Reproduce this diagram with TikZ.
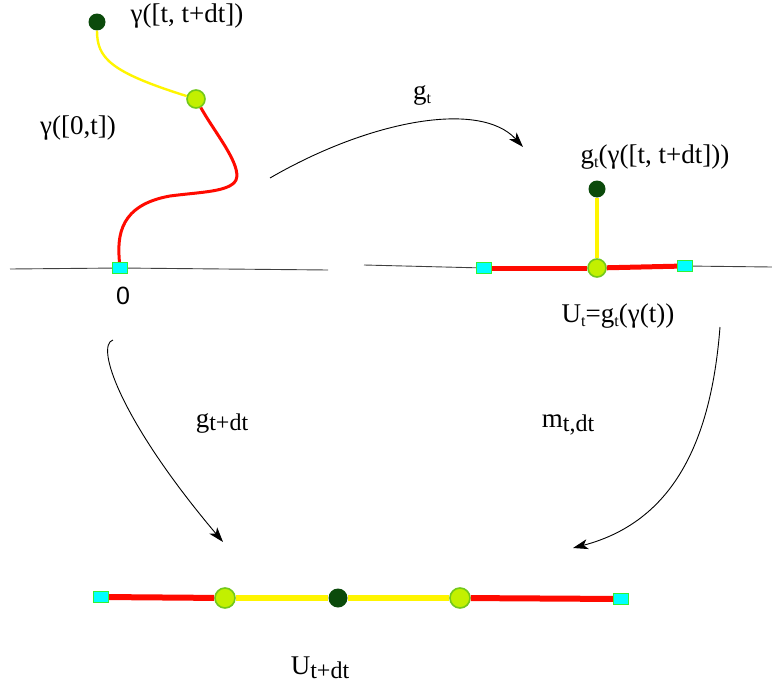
\documentclass[tikz,border=0pt]{standalone}
\usepackage{fontspec}
\setmainfont{Liberation Serif}
\newfontfamily\zerofont{Liberation Sans}
\usetikzlibrary{arrows.meta}
\definecolor{darkdot}{HTML}{0B4A0B}
\definecolor{lime}{HTML}{C2F000}
\definecolor{limeedge}{HTML}{72C81A}
\definecolor{sqfill}{HTML}{00FFFF}
\definecolor{sqedge}{HTML}{33F033}
\definecolor{curvered}{HTML}{FF0A00}
\definecolor{curveyellow}{HTML}{FFF500}
\definecolor{axis}{HTML}{404040}
\newcommand{\smallsub}[1]{\raisebox{-0.35ex}{\fontsize{16}{18}\selectfont #1}}
\newcommand{\bigsub}[1]{\raisebox{-0.3ex}{\fontsize{24}{28}\selectfont #1}}
\tikzset{
  enddot/.style={circle, fill=darkdot, inner sep=0pt, minimum size=17pt},
  joint/.style={circle, fill=lime, draw=limeedge, line width=1.6pt,
                inner sep=0pt, minimum size=18pt},
  endsq/.style={rectangle, fill=sqfill, draw=sqedge, line width=1.2pt,
                inner sep=0pt, minimum width=15pt, minimum height=11pt},
  lbl/.style={font=\fontsize{27}{32}\selectfont, inner sep=0pt},
  axisline/.style={draw=axis, line width=0.9pt},
  redpath/.style={draw=curvered, line width=3pt},
  yellowpath/.style={draw=curveyellow, line width=2.4pt},
  mapto/.style={-{Stealth[length=15pt,width=10pt,inset=4pt]}, line width=0.9pt},
}

\begin{document}
\begin{tikzpicture}[x=1pt, y=-1pt]
  \useasboundingbox (0,0) rectangle (772,696);

  % the curve gamma
  \node[endsq] (origin) at (120,268) {};
  \node[joint] (gt) at (196,99) {};
  \node[enddot] (gtip) at (97,22) {};
  \coordinate (axl) at (10,269);
  \coordinate (axr) at (328,270);
  \draw[axisline] (axl) -- (origin) -- (axr);
  \draw[yellowpath] (gtip) .. controls (97,58) and (110,72) .. (gt);
  \draw[redpath] (gt) .. controls (215,133) and (242,165) .. (236,180)
    .. controls (230,192) and (200,192) .. (170,196)
    .. controls (120,205) and (117,235) .. (origin);
  \node[lbl] (gtiplbl) at (187,16) {γ([t, t+dt])};
  \node[lbl] (pastlbl) at (78,128) {γ([0,t])};
  \node[lbl, font=\zerofont\fontsize{25}{30}\selectfont] (zero) at (123,296) {0};

  % after g_t
  \node[endsq] (ul) at (484,268) {};
  \node[endsq] (ur) at (685,266) {};
  \node[joint] (ut) at (597,268) {};
  \node[enddot] (utip) at (597,189) {};
  \coordinate (bxl) at (364,265);
  \coordinate (bxr) at (772,267);
  \draw[axisline] (bxl) -- (ul);
  \draw[axisline] (ur) -- (bxr);
  \draw[redpath, line width=5pt] (ul) -- (ut);
  \draw[redpath, line width=5pt] (ut) -- (ur);
  \draw[yellowpath, line width=4pt] (utip) -- (ut);
  \node[lbl] (utiplbl) at (655,157) {g\smallsub{t}(γ([t, t+dt]))};
  \node[lbl] (utlbl) at (618,316) {U\smallsub{t}=g\smallsub{t}(γ(t))};

  % after g_{t+dt}
  \node[endsq] (vl) at (101,597) {};
  \node[joint, minimum width=17pt, minimum height=20pt] (va) at (225,598) {};
  \node[enddot, minimum width=16pt, minimum height=19pt] (vtip) at (338,598) {};
  \node[joint, minimum width=17pt, minimum height=20pt] (vb) at (460,598) {};
  \node[endsq] (vr) at (621,599) {};
  \draw[redpath, line width=6pt] (vl) -- (va);
  \draw[yellowpath, line width=6pt] (va) -- (vtip);
  \draw[yellowpath, line width=6pt] (vtip) -- (vb);
  \draw[redpath, line width=6pt] (vb) -- (vr);
  \node[lbl] (vlbl) at (320,668) {U\bigsub{t+dt}};

  % the maps
  \coordinate (gfrom) at (270,178);
  \coordinate (gto) at (523,147);
  \draw[mapto] (gfrom) .. controls (370,120) and (480,100) .. (gto);
  \node[lbl] (glbl) at (422,95) {g\smallsub{t}};

  \coordinate (hfrom) at (113,340);
  \coordinate (hto) at (223,542);
  \draw[mapto] (hfrom) .. controls (95,345) and (120,420) .. (hto);
  \node[lbl] (hlbl) at (222,423) {g\bigsub{t+dt}};

  \coordinate (mfrom) at (720,327);
  \coordinate (mto) at (573,548);
  \draw[mapto] (mfrom) .. controls (712,430) and (680,520) .. (mto);
  \node[lbl] (mlbl) at (568,425) {m\bigsub{t,dt}};
\end{tikzpicture}
\end{document}
